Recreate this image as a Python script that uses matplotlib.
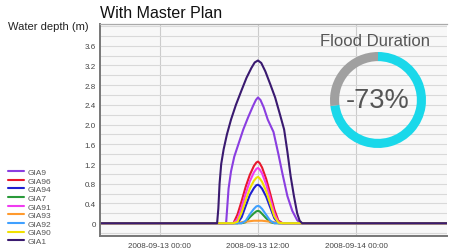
"""Water depth hydrograph, 'With Master Plan' scenario, with flood-duration donut."""
import matplotlib
matplotlib.use("Agg")
import matplotlib.pyplot as plt
import matplotlib.dates as mdates
import pandas as pd
from matplotlib.ticker import MultipleLocator

plt.rcParams["font.family"] = ["Liberation Sans", "DejaVu Sans"]

# --- data -------------------------------------------------------------------
PEAK_TIME = "2008-09-13 12:00"
START_TIME = "2008-09-12 16:00"
END_TIME = "2008-09-14 12:00"
XLIM = ("2008-09-12 16:40", "2008-09-14 11:08")
X_TICKS = ["2008-09-13 00:00", "2008-09-13 12:00", "2008-09-14 00:00"]
Y_TICKS = [0, 0.4, 0.8, 1.2, 1.6, 2.0, 2.4, 2.8, 3.2, 3.6]

# hours relative to PEAK_TIME
HOURS_GIA1 = [-5.0, -4.85, -4.7, -4.5, -4.2, -3.8, -3.3, -2.7, -2.0, -1.4, -0.8, -0.4, 0.0,
              0.4, 0.9, 1.5, 2.1, 2.7, 3.2, 3.6, 4.0, 4.4, 4.8, 5.1, 5.4]
DEPTH_GIA1 = [0, 0.3, 0.8, 1.2, 1.5, 1.8, 2.1, 2.4, 2.7, 2.95, 3.15, 3.26, 3.3,
              3.25, 3.08, 2.82, 2.55, 2.2, 1.9, 1.45, 0.95, 0.55, 0.2, 0.05, 0]

HOURS_GIA9 = [-3.9, -3.75, -3.6, -3.3, -2.9, -2.4, -1.8, -1.2, -0.6, -0.25, 0.0, 0.3, 0.7,
              1.2, 1.9, 2.5, 3.0, 3.6, 4.2, 4.8, 5.3]
DEPTH_GIA9 = [0, 0.35, 0.7, 1.05, 1.35, 1.6, 1.9, 2.15, 2.38, 2.5, 2.55, 2.5, 2.35,
              2.1, 1.85, 1.4, 1.0, 0.55, 0.25, 0.06, 0]

HOURS_SMALL = [-3.0, -2.5, -2.0, -1.5, -1.0, -0.5, -0.2, 0.0, 0.2, 0.5, 1.0, 1.5, 2.0, 2.5, 3.0]
DEPTH_GIA96 = [0, 0.18, 0.45, 0.74, 0.98, 1.16, 1.23, 1.25, 1.22, 1.13, 0.9, 0.6, 0.28, 0.05, 0]
DEPTH_GIA91 = [0, 0.08, 0.32, 0.6, 0.85, 1.03, 1.1, 1.12, 1.09, 1.01, 0.79, 0.5, 0.2, 0.02, 0]
DEPTH_GIA90 = [0, 0.03, 0.22, 0.47, 0.7, 0.86, 0.92, 0.94, 0.91, 0.84, 0.65, 0.4, 0.14, 0.01, 0]
DEPTH_GIA94 = [0, 0.0, 0.12, 0.35, 0.57, 0.71, 0.77, 0.78, 0.76, 0.7, 0.54, 0.32, 0.1, 0, 0]
DEPTH_GIA92 = [0, 0, 0, 0.05, 0.18, 0.29, 0.34, 0.35, 0.34, 0.29, 0.17, 0.05, 0, 0, 0]
DEPTH_GIA7 = [0, 0, 0, 0.02, 0.12, 0.2, 0.24, 0.25, 0.24, 0.19, 0.1, 0.02, 0, 0, 0]
DEPTH_GIA93 = [0, 0, 0.02, 0.03, 0.04, 0.05, 0.05, 0.05, 0.05, 0.05, 0.04, 0.03, 0.02, 0, 0]

# legend / draw order
SERIES = [
    ("GIA9", HOURS_GIA9, DEPTH_GIA9, "#8a3ee0"),
    ("GIA96", HOURS_SMALL, DEPTH_GIA96, "#e8182c"),
    ("GIA94", HOURS_SMALL, DEPTH_GIA94, "#1f1fd0"),
    ("GIA7", HOURS_SMALL, DEPTH_GIA7, "#2a9a3a"),
    ("GIA91", HOURS_SMALL, DEPTH_GIA91, "#f03cf0"),
    ("GIA93", HOURS_SMALL, DEPTH_GIA93, "#ff9a2e"),
    ("GIA92", HOURS_SMALL, DEPTH_GIA92, "#3fa0ff"),
    ("GIA90", HOURS_SMALL, DEPTH_GIA90, "#f0e000"),
    ("GIA1", HOURS_GIA1, DEPTH_GIA1, "#3a1a70"),
]

DURATION_CHANGE = -73  # percent
DONUT_COLORS = ["#1ad8ea", "#a0a0a0"]


def _series_xy(hours, depth):
    peak = mdates.date2num(pd.Timestamp(PEAK_TIME))
    x = [mdates.date2num(pd.Timestamp(START_TIME))]
    x += [peak + h / 24.0 for h in hours]
    x += [mdates.date2num(pd.Timestamp(END_TIME))]
    y = [0] + list(depth) + [0]
    return x, y


# --- figure -----------------------------------------------------------------
W, H = 457, 253
fig = plt.figure(figsize=(W / 100, H / 100), dpi=100)
ax = fig.add_axes([100 / W, (H - 237) / H, 347 / W, 212 / H])
ax.set_facecolor("#f8f8f8")

for name, hours, depth, color in SERIES:
    x, y = _series_xy(hours, depth)
    ax.plot(x, y, color=color, linewidth=1.5, label=name,
            solid_joinstyle="round", solid_capstyle="round")

ax.set_xlim([mdates.date2num(pd.Timestamp(t)) for t in XLIM])
ax.set_ylim(-0.26, 4.04)
ax.set_xticks([mdates.date2num(pd.Timestamp(t)) for t in X_TICKS])
ax.set_xticklabels(X_TICKS)
ax.set_yticks(Y_TICKS)
ax.set_yticklabels(["0" if v == 0 else f"{v:.1f}" for v in Y_TICKS])
ax.yaxis.set_minor_locator(MultipleLocator(0.2))
ax.tick_params(axis="both", which="both", length=0, colors="#444", labelsize=5.8)
ax.tick_params(axis="x", pad=4)
ax.tick_params(axis="y", pad=3)
ax.grid(True, axis="y", which="both", color="#d9d9d9", linewidth=0.8)
ax.grid(True, axis="x", which="major", color="#cccccc", linewidth=0.8)
ax.set_axisbelow(True)
for side in ("left", "bottom"):
    ax.spines[side].set_color("#777")
    ax.spines[side].set_linewidth(1.4)
ax.spines["top"].set_color("#aaa")
ax.spines["top"].set_linewidth(0.9)
ax.spines["right"].set_visible(False)

fig.text(100 / W, 1 - 13 / H, "With Master Plan", fontsize=11.5, color="#111",
         va="center", ha="left")
fig.text(8 / W, 1 - 27 / H, "Water depth (m)", fontsize=8, color="#222",
         va="center", ha="left")

handles, labels = ax.get_legend_handles_labels()
fig.legend(handles, labels, loc="upper left", bbox_to_anchor=(8 / W, 1 - 169 / H),
           frameon=False, fontsize=6, labelcolor="#555", handlelength=1.9,
           handletextpad=0.4, labelspacing=0.1, borderpad=0, borderaxespad=0)

# donut
cx, cy, r = 378, 101, 48
dax = fig.add_axes([(cx - r) / W, (H - cy - r) / H, 2 * r / W, 2 * r / H])
frac = abs(DURATION_CHANGE)
dax.pie([frac, 100 - frac], colors=DONUT_COLORS, startangle=90, counterclock=False,
        radius=1.0, wedgeprops=dict(width=0.19, linewidth=0))
dax.set_xlim(-1, 1)
dax.set_ylim(-1, 1)
dax.set_aspect("equal")
dax.axis("off")
dax.text(0, 0, f"{DURATION_CHANGE}%", fontsize=19.5, color="#555",
         ha="center", va="center")
fig.text(375 / W, 1 - 42 / H, "Flood Duration", fontsize=12, color="#555",
         ha="center", va="center")

fig.savefig("out.png", dpi=100)
